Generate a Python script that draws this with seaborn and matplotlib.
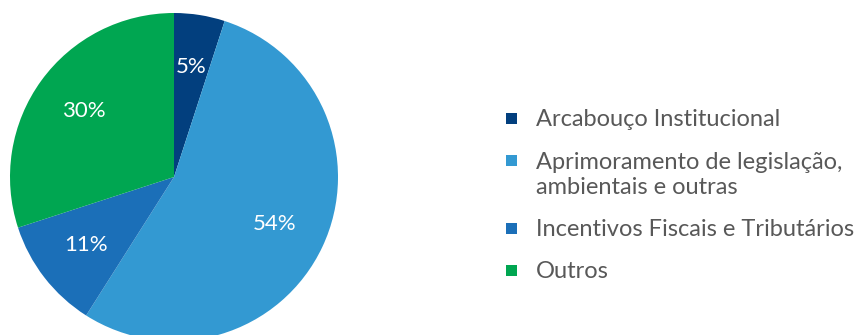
import matplotlib
matplotlib.use("Agg")
import matplotlib.pyplot as plt
from matplotlib.patches import Rectangle
import seaborn as sns

# Share of actions by category (%)
categories = [
    "Arcabouço Institucional",
    "Aprimoramento de legislação,\nambientais e outras",
    "Incentivos Fiscais e Tributários",
    "Outros",
]
shares = [5, 54, 11, 30]
slice_colors = ["#023f7e", "#3399d2", "#1b6fb8", "#00a651"]

sns.set_theme(style="white")
plt.rcParams["font.family"] = ["Lato", "DejaVu Sans"]

W, H, DPI = 862, 335, 100
fig = plt.figure(figsize=(W / DPI, H / DPI), dpi=DPI)
fig.patch.set_facecolor("white")

# Pie axes: centre at (174, 177) px from top-left, radius 164 px
cx, cy, r = 174, 177, 164
ax = fig.add_axes([(cx - r) / W, (H - cy - r) / H, 2 * r / W, 2 * r / H])
palette = sns.color_palette(slice_colors)
wedges, _, autotexts = ax.pie(
    shares,
    colors=palette,
    startangle=90,
    counterclock=False,
    autopct="%d%%",
    pctdistance=0.68,
    wedgeprops=dict(linewidth=0),
    textprops=dict(color="white", fontsize=16),
)
ax.set_xlim(-1, 1)
ax.set_ylim(-1, 1)
ax.set_aspect("equal")
ax.axis("off")

# Legend: square swatch aligned with the first line of each label
text_color = "#585858"
fs = 17
line_h = 26      # px between lines of one label
row_gap = 42     # px between consecutive lines of different labels
y = 118          # px from top, first row
sq = 11
for label, col in zip(categories, palette):
    fig.add_artist(Rectangle(((511 - sq / 2) / W, (H - y - sq / 2) / H), sq / W, sq / H,
                             transform=fig.transFigure, facecolor=col, edgecolor="none"))
    lines = label.split("\n")
    for k, line in enumerate(lines):
        fig.text(536 / W, (H - y - k * line_h) / H, line, fontsize=fs,
                 color=text_color, va="center_baseline", ha="left")
    y += (len(lines) - 1) * line_h + row_gap

fig.savefig("out.png", dpi=DPI, facecolor="white")
